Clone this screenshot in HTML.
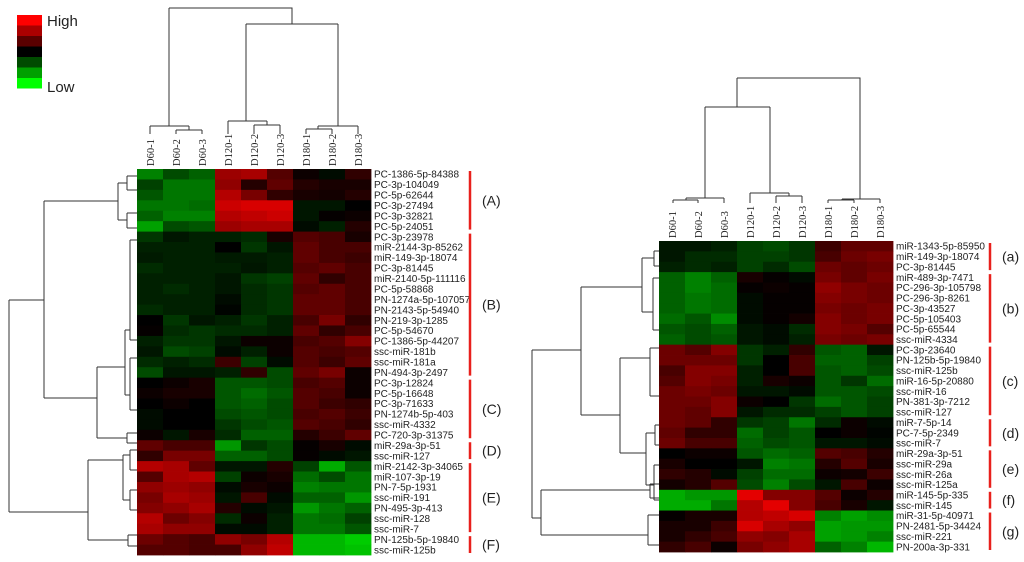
<!DOCTYPE html>
<html><head><meta charset="utf-8">
<style>
html,body{margin:0;padding:0;background:#fff;}
svg{display:block;font-family:"Liberation Sans",sans-serif;}
.lbl{font-size:10px;fill:#222;}
.col{font-family:"Liberation Serif",serif;font-size:10.5px;fill:#222;}
.grp{font-size:14px;fill:#222;}
.dg{fill:none;stroke:#333;stroke-width:1;}
</style></head>
<body>
<svg id="chart" width="1024" height="562" viewBox="0 0 1024 562"></svg>
<script>
const colLabels = ["D60-1","D60-2","D60-3","D120-1","D120-2","D120-3","D180-1","D180-2","D180-3"];
const leftRows = ["PC-1386-5p-84388","PC-3p-104049","PC-5p-62644","PC-3p-27494","PC-3p-32821","PC-5p-24051","PC-3p-23978","miR-2144-3p-85262","miR-149-3p-18074","PC-3p-81445","miR-2140-5p-111116","PC-5p-58868","PN-1274a-5p-107057","PN-2143-5p-54940","PN-219-3p-1285","PC-5p-54670","PC-1386-5p-44207","ssc-miR-181b","ssc-miR-181a","PN-494-3p-2497","PC-3p-12824","PC-5p-16648","PC-3p-71633","PN-1274b-5p-403","ssc-miR-4332","PC-720-3p-31375","miR-29a-3p-51","ssc-miR-127","miR-2142-3p-34065","miR-107-3p-19","PN-7-5p-1931","ssc-miR-191","PN-495-3p-413","ssc-miR-128","ssc-miR-7","PN-125b-5p-19840","ssc-miR-125b"];
const leftValues = [
[-0.6,-0.35,-0.45,0.65,0.7,0.35,0.05,-0.05,0.2],
[-0.3,-0.55,-0.55,0.6,0.15,0.4,0.15,0.1,0.1],
[-0.4,-0.55,-0.55,0.75,0.5,0.2,0.1,0.08,0.15],
[-0.55,-0.55,-0.5,0.85,0.9,0.9,-0.1,-0.1,0.0],
[-0.45,-0.6,-0.6,0.75,0.8,0.85,-0.1,0.02,0.05],
[-0.75,-0.35,-0.4,0.65,0.7,0.7,-0.05,-0.15,0.15],
[-0.25,-0.1,-0.15,-0.15,-0.2,0.1,0.35,0.3,0.1],
[-0.15,-0.15,-0.15,0.0,-0.25,-0.1,0.4,0.3,0.3],
[-0.12,-0.15,-0.15,-0.12,-0.12,-0.15,0.4,0.3,0.25],
[-0.2,-0.15,-0.15,-0.15,-0.1,-0.15,0.35,0.4,0.3],
[-0.15,-0.15,-0.15,-0.1,-0.25,-0.3,0.4,0.2,0.3],
[-0.15,-0.2,-0.15,-0.1,-0.2,-0.25,0.35,0.4,0.3],
[-0.15,-0.15,-0.15,-0.05,-0.2,-0.25,0.4,0.4,0.3],
[-0.2,-0.15,-0.15,-0.02,-0.2,-0.25,0.4,0.4,0.3],
[0.0,-0.25,-0.1,-0.15,-0.25,-0.15,0.3,0.5,0.2],
[0.02,-0.2,-0.25,-0.2,-0.2,-0.15,0.4,0.2,0.3],
[-0.15,-0.25,-0.25,-0.1,0.05,0.05,0.3,0.35,0.55],
[-0.1,-0.35,-0.3,-0.05,-0.15,0.05,0.35,0.3,0.35],
[-0.2,-0.15,-0.2,0.25,-0.3,-0.05,0.35,0.25,0.4],
[-0.35,-0.1,-0.1,-0.15,0.2,-0.35,0.4,0.5,0.05],
[0.0,0.05,0.1,-0.4,-0.4,-0.35,0.3,0.35,0.05],
[0.05,0.1,0.1,-0.4,-0.5,-0.4,0.35,0.3,0.05],
[0.0,0.05,0.0,-0.4,-0.45,-0.35,0.35,0.25,0.2],
[-0.05,0.0,0.0,-0.35,-0.4,-0.35,0.3,0.35,0.25],
[-0.05,0.0,0.0,-0.25,-0.35,-0.4,0.35,0.3,0.2],
[0.05,-0.1,0.1,-0.2,-0.45,-0.45,0.15,0.25,0.4],
[0.4,0.3,0.3,-0.7,-0.25,-0.35,0.02,0.1,-0.05],
[0.2,0.5,0.5,-0.45,-0.45,-0.35,0.02,-0.05,-0.1],
[0.75,0.7,0.4,-0.1,-0.1,0.15,-0.3,-0.8,-0.4],
[0.35,0.7,0.75,-0.3,0.05,0.1,-0.5,-0.35,-0.55],
[0.6,0.65,0.6,-0.05,0.1,0.05,-0.6,-0.55,-0.55],
[0.5,0.7,0.65,-0.1,0.3,-0.05,-0.45,-0.45,-0.7],
[0.55,0.6,0.7,0.15,-0.05,-0.1,-0.7,-0.55,-0.45],
[0.75,0.45,0.55,-0.2,0.05,-0.15,-0.55,-0.5,-0.3],
[0.7,0.6,0.6,-0.05,-0.05,-0.15,-0.55,-0.55,-0.4],
[0.45,0.35,0.3,0.6,0.5,0.75,-0.85,-0.85,-0.95],
[0.35,0.35,0.3,0.3,0.6,0.8,-0.85,-0.85,-0.9]];
const leftGroups = [["(A)",0,5],["(B)",6,19],["(C)",20,25],["(D)",26,27],["(E)",28,34],["(F)",35,36]];

const rightRows = ["miR-1343-5p-85950","miR-149-3p-18074","PC-3p-81445","miR-489-3p-7471","PC-296-3p-105798","PC-296-3p-8261","PC-3p-43527","PC-5p-105403","PC-5p-65544","ssc-miR-4334","PC-3p-23640","PN-125b-5p-19840","ssc-miR-125b","miR-16-5p-20880","ssc-miR-16","PN-381-3p-7212","ssc-miR-127","miR-7-5p-14","PC-7-5p-2349","ssc-miR-7","miR-29a-3p-51","ssc-miR-29a","ssc-miR-26a","ssc-miR-125a","miR-145-5p-335","ssc-miR-145","miR-31-5p-40971","PN-2481-5p-34424","ssc-miR-221","PN-200a-3p-331"];
const rightValues = [
[-0.1,-0.1,-0.15,-0.3,-0.35,-0.25,0.25,0.4,0.4],
[-0.1,-0.2,-0.2,-0.3,-0.3,-0.25,0.3,0.45,0.5],
[-0.15,-0.2,-0.15,-0.3,-0.2,-0.35,0.45,0.4,0.45],
[-0.45,-0.6,-0.45,0.1,0.02,-0.05,0.5,0.4,0.5],
[-0.45,-0.6,-0.5,0.02,0.05,0.02,0.6,0.5,0.45],
[-0.45,-0.55,-0.5,-0.05,0.02,0.02,0.55,0.5,0.45],
[-0.45,-0.55,-0.5,-0.05,0.02,0.02,0.5,0.45,0.5],
[-0.5,-0.4,-0.65,-0.05,0.02,0.08,0.55,0.45,0.5],
[-0.4,-0.35,-0.45,-0.1,-0.05,-0.2,0.55,0.5,0.35],
[-0.45,-0.35,-0.4,-0.1,-0.05,-0.15,0.5,0.45,0.5],
[0.45,0.35,0.55,-0.25,-0.15,0.2,-0.4,-0.45,-0.1],
[0.45,0.45,0.45,-0.25,0.0,0.3,-0.45,-0.45,-0.3],
[0.3,0.55,0.55,-0.15,0.0,0.3,-0.4,-0.45,-0.35],
[0.35,0.55,0.5,-0.15,0.1,0.05,-0.4,-0.25,-0.5],
[0.45,0.5,0.45,-0.1,-0.1,-0.05,-0.4,-0.4,-0.35],
[0.45,0.45,0.55,0.05,0.0,-0.25,-0.5,-0.4,-0.3],
[0.45,0.4,0.55,-0.1,-0.2,-0.2,-0.3,-0.4,-0.3],
[0.45,0.4,0.2,-0.25,-0.3,-0.55,-0.2,0.05,-0.05],
[0.4,0.2,0.2,-0.5,-0.3,-0.4,0.0,0.05,-0.02],
[0.45,0.3,0.3,-0.45,-0.35,-0.4,-0.1,-0.1,-0.05],
[0.0,0.05,0.05,-0.4,-0.5,-0.45,0.35,0.3,0.15],
[0.1,0.0,0.0,-0.1,-0.6,-0.55,0.15,0.35,0.1],
[0.2,0.15,-0.05,-0.3,-0.5,-0.5,0.05,0.08,0.25],
[0.08,0.15,0.35,-0.35,-0.6,-0.35,-0.1,0.3,0.05],
[-0.8,-0.7,-0.7,0.95,0.55,0.55,0.35,0.05,0.15],
[-0.8,-0.8,-0.55,0.75,0.95,0.55,0.3,0.1,-0.1],
[0.02,0.1,0.1,0.75,0.8,0.9,-0.6,-0.75,-0.65],
[0.1,0.1,0.25,0.9,0.7,0.6,-0.75,-0.7,-0.7],
[0.1,0.2,0.3,0.6,0.55,0.7,-0.75,-0.7,-0.6],
[0.2,0.3,0.05,0.5,0.6,0.7,-0.45,-0.6,-0.85]];
const rightGroups = [["(a)",0,2],["(b)",3,9],["(c)",10,16],["(d)",17,19],["(e)",20,23],["(f)",24,25],["(g)",26,29]];

const NS = "http://www.w3.org/2000/svg";
const svg = document.getElementById("chart");
function mk(tag, attrs, parent) {
  const e = document.createElementNS(NS, tag);
  for (const k in attrs) e.setAttribute(k, attrs[k]);
  (parent || svg).appendChild(e);
  return e;
}
function color(v) {
  v = Math.max(-1, Math.min(1, v));
  if (v >= 0) return "rgb(" + Math.round(v * 240) + ",0,0)";
  return "rgb(0," + Math.round(-v * 215) + ",0)";
}

function drawPanel(cfg) {
  const g = mk("g", {});
  
  
  const cw = (cfg.x1 - cfg.x0) / colLabels.length;
  const rh = (cfg.y1 - cfg.y0) / cfg.rows.length;
  const xS = i => cfg.x0 + i * cw;
  const yS = j => cfg.y0 + j * rh;
  cfg.values.forEach((row, j) => {
    row.forEach((v, i) => {
      const r = mk("rect", {x: xS(i), y: yS(j), width: cw + 0.4, height: rh + 0.4, fill: color(v)}, g);
      
      
    });
    const t = mk("text", {x: cfg.x1 + 3, y: yS(j) + rh / 2 + 3.5, class: "lbl"}, g);
    t.textContent = cfg.rows[j];
    
    
  });
  colLabels.forEach((c, i) => {
    const cx = xS(i) + cw / 2 + 4;
    const t = mk("text", {x: cx, y: cfg.y0 - 3, class: "col", transform: "rotate(-90 " + cx + " " + (cfg.y0 - 3) + ")"}, g);
    t.textContent = c;
    
    
  });
  cfg.groups.forEach(gr => {
    const ya = yS(gr[1]) + 2, yb = yS(gr[2] + 1) - 2;
    const l = mk("line", {x1: cfg.barX, x2: cfg.barX, y1: ya, y2: yb, stroke: "#e8201c", "stroke-width": 2.5}, g);
    
    
    const t = mk("text", {x: cfg.barX + 12, y: (ya + yb) / 2 + 5, class: "grp"}, g);
    t.textContent = gr[0];
    
    
  });
}

drawPanel({name: "left-heatmap", x0: 137, x1: 371, y0: 169, y1: 555, rows: leftRows, values: leftValues, groups: leftGroups, barX: 470});
drawPanel({name: "right-heatmap", x0: 659, x1: 893, y0: 241, y1: 552, rows: rightRows, values: rightValues, groups: rightGroups, barX: 990});

function dendro(name, d) {
  const p = mk("path", {d: d, class: "dg"});
  
  
}
dendro("left-column-dendrogram",
 "M169 8H292V24 M169 8V126 M150 126H189 M150 126V134 M189 126V130 M176 130H202 M176 130V134 M202 130V134" +
 " M246 24H338 M246 24V121 M228 121H267 M228 121V134 M267 121V125 M254 125H280 M254 125V134 M280 125V134" +
 " M338 24V126 M318 126H358 M358 126V134 M318 126V129 M306 129H332 M306 129V134 M332 129V134");
dendro("right-column-dendrogram",
 "M737 78H860V199 M737 78V107 M705 107H770 M705 107V198 M686 198H724 M724 198V203 M686 198V200 M673 200H698 M673 200V203 M698 200V203" +
 " M770 107V193 M750 193H789 M750 193V203 M789 193V196 M776 196H802 M776 196V203 M802 196V203" +
 " M842 199H880 M880 199V203 M842 199V200 M828 200H854 M828 200V203 M854 200V203");
dendro("left-row-dendrogram",
 "M9 300V512 M9 300H44 M9 512H88 M44 201V398 M44 201H118 M44 398H97 M118 183V220 M118 183H127 M118 220H127 M127 176V190 M127 176H137 M127 190H137 M127 213V228 M127 213H137 M127 228H137" +
 " M97 367V438 M97 367H125 M97 438H127 M125 330V395 M125 330H130 M125 395H130 M130 240V340 M130 240H137 M130 340H137 M130 358V410 M130 358H137 M130 410H137 M127 433V443 M127 433H137 M127 443H137" +
 " M88 460V540 M88 460H123 M88 540H128 M123 455V500 M123 455H130 M123 500H130 M130 450V470 M130 450H137 M130 470H137 M130 490V510 M130 490H137 M130 510H137 M128 535V546 M128 535H137 M128 546H137");
dendro("right-row-dendrogram",
 "M532 350V518 M532 350H581 M532 518H541 M581 287V415 M581 287H642 M581 415H620 M642 258V312 M642 258H654 M642 312H653 M654 251V266 M654 251H659 M654 266H659 M653 278V330 M653 278H659 M653 330H659" +
 " M620 358V453 M620 358H650 M620 453H646 M650 348V396 M650 348H659 M650 396H659 M646 433V485 M646 433H655 M646 485H654 M655 425V445 M655 425H659 M655 445H659 M654 465V500 M654 465H659 M654 500H659" +
 " M541 490V535 M541 490H650 M541 535H648 M650 484V498 M650 484H659 M650 498H659 M648 515V545 M648 515H659 M648 545H659");

const legendColors = ["rgb(255,0,0)","rgb(170,0,0)","rgb(90,0,0)","rgb(0,0,0)","rgb(0,75,0)","rgb(0,160,0)","rgb(0,255,0)"];
legendColors.forEach((c, i) => {
  const r = mk("rect", {x: 17, y: 15 + i * 10.5, width: 25, height: 10.5, fill: c});
  
  
});
const hi = mk("text", {x: 47, y: 26, "font-size": 15, fill: "#222"}); hi.textContent = "High";


const lo = mk("text", {x: 47, y: 92, "font-size": 15, fill: "#222"}); lo.textContent = "Low";


</script>
</body></html>
